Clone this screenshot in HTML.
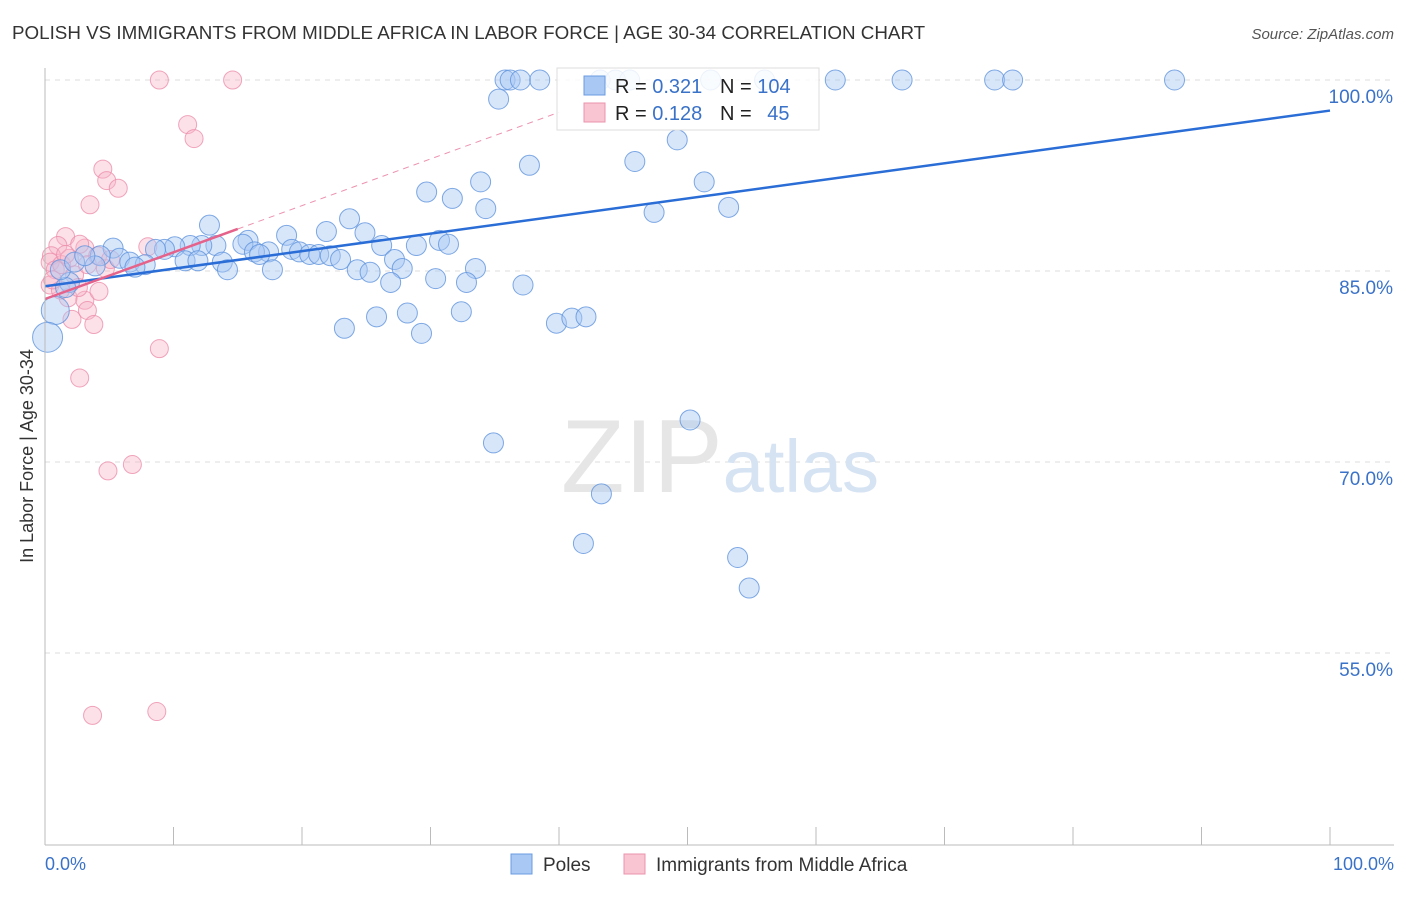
<!DOCTYPE html>
<html><head><meta charset="utf-8"><style>
body{margin:0;background:#fff;font-family:"Liberation Sans",sans-serif;}
svg text{font-family:"Liberation Sans",sans-serif;}
</style></head><body>
<svg width="1406" height="892" viewBox="0 0 1406 892">
<text x="12" y="39" font-size="18.8" fill="#333">POLISH VS IMMIGRANTS FROM MIDDLE AFRICA IN LABOR FORCE | AGE 30-34 CORRELATION CHART</text>
<text x="1394" y="39" font-size="15" fill="#555" font-style="italic" text-anchor="end">Source: ZipAtlas.com</text>
<text x="33" y="456" font-size="18" fill="#333" transform="rotate(-90 33 456)" text-anchor="middle">In Labor Force | Age 30-34</text>
<g id="grid"></g>
<text x="720" y="492" font-size="104" fill="#e6e6e6" text-anchor="middle" font-family="Liberation Serif">ZIP<tspan fill="#d6e3f3" font-family="Liberation Sans" font-size="74">atlas</tspan></text>
<g id="pts"></g>
<g id="trend"></g>
<line x1="45" y1="68" x2="45" y2="845" stroke="#bbb"/>
<line x1="45" y1="845" x2="1394" y2="845" stroke="#bbb"/>
<g id="ticks"></g>
<text x="45" y="870" font-size="18" fill="#3a72c8">0.0%</text>
<text x="1394" y="870" font-size="18" fill="#3a72c8" text-anchor="end">100.0%</text>
<g>
<rect x="557" y="68" width="262" height="62" fill="#fff" fill-opacity="0.85" stroke="#ddd"/>
<rect x="584" y="76" width="21" height="19" fill="#a9c8f3" stroke="#6b9be0"/>
<rect x="584" y="103" width="21" height="19" fill="#f9c5d3" stroke="#ec93ae"/>
<text x="615" y="93" font-size="20" fill="#222">R = <tspan fill="#3a72c8">0.321</tspan></text>
<text x="720" y="93" font-size="20" fill="#222">N = <tspan fill="#3a72c8">104</tspan></text>
<text x="615" y="120" font-size="20" fill="#222">R = <tspan fill="#3a72c8">0.128</tspan></text>
<text x="720" y="120" font-size="20" fill="#222">N = <tspan fill="#3a72c8" dx="10">45</tspan></text>
</g>
<g>
<rect x="511" y="854" width="21" height="20" fill="#a9c8f3" stroke="#6b9be0"/>
<text x="543" y="871" font-size="19" fill="#333">Poles</text>
<rect x="624" y="854" width="21" height="20" fill="#f9c5d3" stroke="#ec93ae"/>
<text x="656" y="871" font-size="19" fill="#333">Immigrants from Middle Africa</text>
</g>
</svg>
<script>
const yTicks=[100,85,70,55];
const xTickCount=10;
const blueX=[35.8,36.2,37.0,38.5,43.2,44.4,45.5,51.8,56.0,61.5,66.7,73.9,75.3,87.9,35.3,49.2,37.7,45.9,33.9,51.3,29.7,31.7,34.3,47.4,53.2,12.8,23.7,21.9,24.9,18.8,15.8,30.7,31.4,28.9,26.2,15.4,13.3,12.2,11.3,10.1,9.3,8.6,5.3,17.4,19.2,19.8,16.3,16.7,20.6,21.3,22.2,23.0,27.2,5.8,4.3,10.9,11.9,13.8,6.6,7.8,7.0,3.9,24.3,25.3,27.8,33.5,14.2,17.7,26.9,30.4,32.8,37.2,1.9,1.6,23.3,25.8,28.2,29.3,32.4,39.8,41.0,42.1,50.2,34.9,43.3,41.9,53.9,54.8,1.2,2.3,3.1,0.8,0.2];
const blueY=[100,100,100,100,100,100,100,100,100,100,100,100,100,100,98.5,95.3,93.3,93.6,92.0,92.0,91.2,90.7,89.9,89.6,90.0,88.6,89.1,88.1,88.0,87.8,87.4,87.4,87.1,87.0,87.0,87.1,87.0,87.0,87.0,86.9,86.7,86.7,86.8,86.5,86.7,86.5,86.5,86.3,86.3,86.3,86.2,85.9,85.9,86.0,86.2,85.8,85.8,85.7,85.7,85.5,85.3,85.4,85.1,84.9,85.2,85.2,85.1,85.1,84.1,84.4,84.1,83.9,84.1,83.7,80.5,81.4,81.7,80.1,81.8,80.9,81.3,81.4,73.3,71.5,67.5,63.6,62.5,60.1,85.1,85.7,86.2,81.9,79.8];
const pinkX=[8.9,14.6,11.1,11.6,4.5,4.8,5.7,3.5,1.6,1.0,3.1,2.7,8.0,0.5,0.4,0.8,1.3,1.9,2.3,3.3,4.7,4.1,0.4,1.8,3.1,4.2,2.1,3.3,3.8,8.9,2.7,6.8,4.9,3.7,8.7,1.2,2.6,1.6,5.1,0.6];
const pinkY=[100,100,96.5,95.4,93.0,92.1,91.5,90.2,87.7,87.0,86.8,87.1,86.9,86.2,85.7,85.1,85.5,86.0,84.7,85.5,85.2,86.2,83.9,82.9,82.7,83.4,81.2,81.9,80.8,78.9,76.6,69.8,69.3,50.1,50.4,83.5,83.7,86.3,85.9,84.3];
const blueTrend=[83.8,97.6];
const pinkTrend=[82.8,88.3];
const sx=v=>45+v*12.85;
const sy=v=>80+(100-v)*12.733;
const NS="http://www.w3.org/2000/svg";
function mk(tag,attrs,parent){const e=document.createElementNS(NS,tag);for(const k in attrs)e.setAttribute(k,attrs[k]);parent.appendChild(e);return e;}
const grid=document.getElementById('grid');
yTicks.forEach(t=>{
 const l=mk('line',{x1:45,x2:1394,y1:sy(t),y2:sy(t),stroke:'#ddd','stroke-dasharray':'5,5'},grid);
 
 
 const tx=mk('text',{x:1393,y:sy(t)+23,'font-size':19,fill:'#3a72c8','text-anchor':'end'},grid);
 tx.textContent=t.toFixed(1)+'%';
 
 
});
const ticks=document.getElementById('ticks');
for(let i=1;i<=xTickCount;i++){
 const l=mk('line',{x1:sx(i*10),x2:sx(i*10),y1:827,y2:845,stroke:'#bbb'},ticks);
 
 
}
const pts=document.getElementById('pts');
pinkX.forEach((x,i)=>{
 const c=mk('circle',{cx:sx(x),cy:sy(pinkY[i]),r:9,fill:'#f7b5c8','fill-opacity':0.4,stroke:'#ec8fab','stroke-opacity':0.8},pts);
 
 
});
blueX.forEach((x,i)=>{
 const big=i>=blueX.length-2;
 const c=mk('circle',{cx:sx(x),cy:sy(blueY[i]),r:big?(i==blueX.length-1?15:14):10,fill:'#a9c8f3','fill-opacity':0.45,stroke:'#5f93dd','stroke-opacity':0.8},pts);
 
 
});
const tr=document.getElementById('trend');
const bl=mk('line',{x1:sx(0),y1:sy(blueTrend[0]),x2:sx(100),y2:sy(blueTrend[1]),stroke:'#2a6dd6','stroke-width':2.5},tr);


const ps=(pinkTrend[1]-pinkTrend[0])/15;
const pl=mk('line',{x1:sx(0),y1:sy(pinkTrend[0]),x2:sx(15),y2:sy(pinkTrend[1]),stroke:'#e5628b','stroke-width':2.5},tr);


const pd=mk('line',{x1:sx(15),y1:sy(pinkTrend[1]),x2:sx(40),y2:sy(pinkTrend[0]+ps*40),stroke:'#e5628b','stroke-width':1,'stroke-dasharray':'6,5','stroke-opacity':0.7},tr);


</script>
</body></html>
